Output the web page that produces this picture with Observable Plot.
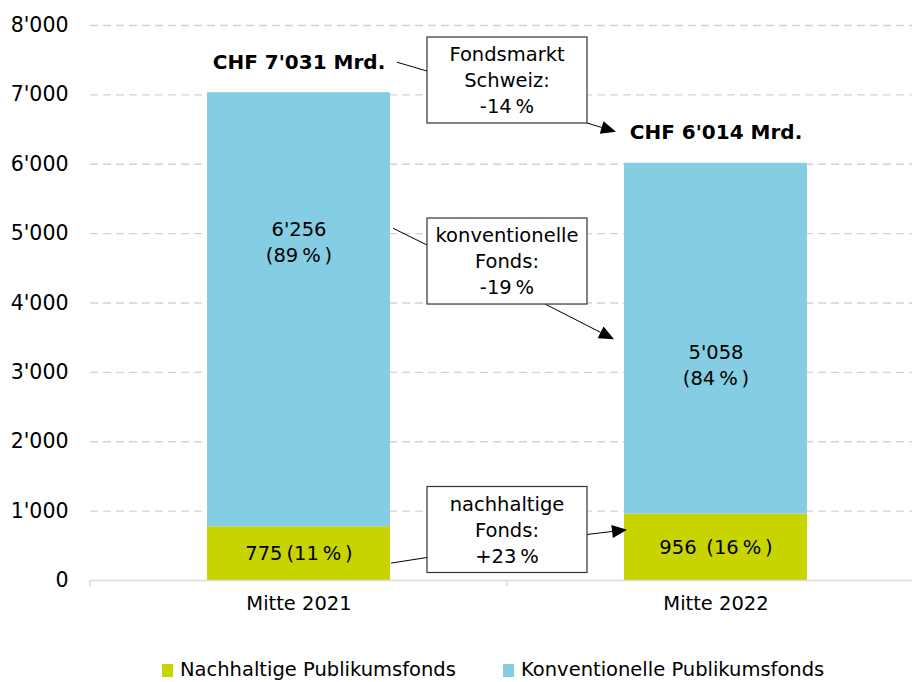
<!DOCTYPE html>
<html><head><meta charset="utf-8">
<script src="https://cdn.jsdelivr.net/npm/d3@7"></script>
<script src="https://cdn.jsdelivr.net/npm/@observablehq/plot@0.6"></script>
<style>
body{margin:0;background:#fff;font-family:"DejaVu Sans",sans-serif;overflow:hidden;width:912px;height:682px;}
#legend{position:relative;height:52px;font-size:19.5px;color:#000;}
.item{position:absolute;top:28px;display:flex;align-items:center;line-height:24px;white-space:nowrap;}
.sw{width:11px;height:13px;margin-right:7px;}
</style></head><body><div id="chart"></div><div id="legend"></div>
<script>
const categories = ["Mitte 2021", "Mitte 2022"];
const seriesNames = ["Nachhaltige Publikumsfonds", "Konventionelle Publikumsfonds"];
const nachhaltig = [775, 956];
const konventionell = [6256, 5058];
const nachhaltigShare = [11, 16];
const konventionellShare = [89, 84];
const totals = [7031, 6014];
const changeTexts = ["Fondsmarkt\nSchweiz:\n-14\u2009%", "konventionelle\nFonds:\n-19\u2009%", "nachhaltige\nFonds:\n+23\u2009%"];
const yTicks = [0, 1000, 2000, 3000, 4000, 5000, 6000, 7000, 8000];
const colors = ["#c8d400", "#85cde2"];

const loc = d3.formatLocale({decimal: ".", thousands: "'", grouping: [3], currency: ["", ""]});
const fmt = loc.format(",d");

const rows = [];
categories.forEach((c, i) => {
  rows.push({cat: c, series: seriesNames[0], value: nachhaltig[i]});
  rows.push({cat: c, series: seriesNames[1], value: konventionell[i]});
});
const greenLabels = categories.map((c, i) => ({cat: c, y: nachhaltig[i] / 2,
  text: i === 0 ? `${fmt(nachhaltig[i])}\u2009(${nachhaltigShare[i]}\u2009%\u2009)` : `${fmt(nachhaltig[i])}\u2002(${nachhaltigShare[i]}\u2009%\u2009)`}));
const blueLabels = categories.map((c, i) => ({cat: c, y: nachhaltig[i] + konventionell[i] / 2,
  text: `${fmt(konventionell[i])}\n(${konventionellShare[i]}\u2009%\u2009)`}));
const totalLabels = categories.map((c, i) => ({cat: c, y: totals[i], text: `CHF ${fmt(totals[i])} Mrd.`}));

const FONT = "DejaVu Sans, sans-serif";

function annotations(index, scales, values, dimensions) {
  const sx = scales.x, sy = scales.y;
  const bw = typeof sx.bandwidth === "function" ? sx.bandwidth() : sx.bandwidth;
  const step = typeof sx.step === "function" ? sx.step() : sx.step;
  const x0 = sx(categories[0]), x1 = sx(categories[1]);
  const gap = step - bw;
  const g = d3.create("svg:g");
  const base = sy(0);
  [x0 - gap / 2, x0 + bw + gap / 2, x1 + bw + gap / 2].forEach(bx => {
    g.append("line").attr("x1", bx).attr("x2", bx).attr("y1", base).attr("y2", base + 6)
      .attr("stroke", "#d9d9d9").attr("stroke-width", 1.5);
  });
  const mid = (x0 + bw + x1) / 2;
  const hw = 80, hh = 43;
  const boxCenters = [sy(7207), sy(4598), sy(728)];
  const lab21 = sy(nachhaltig[0] + konventionell[0] / 2) - 69;
  const lab22 = sy(nachhaltig[1] + konventionell[1] / 2) + 25;
  const segs = [
    {line: [[x0 + bw + 7, sy(totals[0]) - 30], [mid - hw, boxCenters[0] - 9]],
     arrow: [[mid + hw, boxCenters[0] + hh], [x1 - 8, sy(totals[1]) - 31]]},
    {line: [[x0 + bw + 3, lab21 - 12], [mid - hw, boxCenters[1] - 16]],
     arrow: [[mid + 38, boxCenters[1] + hh], [x1 - 10, lab22 - 24]]},
    {line: [[x0 + bw + 1, sy(nachhaltig[0] / 2) + 10], [mid - hw, boxCenters[2] + 28]],
     arrow: [[mid + hw, boxCenters[2] + 5], [x1 + 3, sy(nachhaltig[1]) + 16]]}
  ];
  segs.forEach((s, i) => {
    g.append("line").attr("x1", s.line[0][0]).attr("y1", s.line[0][1]).attr("x2", s.line[1][0]).attr("y2", s.line[1][1])
      .attr("stroke", "#000").attr("stroke-width", 1);
    const [a, b] = s.arrow;
    const ang = Math.atan2(b[1] - a[1], b[0] - a[0]);
    const L = 15, W = 6.5;
    const bx = b[0] - L * Math.cos(ang), by = b[1] - L * Math.sin(ang);
    g.append("line").attr("x1", a[0]).attr("y1", a[1]).attr("x2", bx).attr("y2", by)
      .attr("stroke", "#000").attr("stroke-width", 1);
    const px = -Math.sin(ang) * W, py = Math.cos(ang) * W;
    g.append("polygon").attr("points", `${b[0]},${b[1]} ${bx + px},${by + py} ${bx - px},${by - py}`).attr("fill", "#000");
    const cy = boxCenters[i];
    g.append("rect").attr("x", mid - hw).attr("y", cy - hh).attr("width", 2 * hw).attr("height", 2 * hh)
      .attr("fill", "#fff").attr("stroke", "#333").attr("stroke-width", 1.2);
    const lines = changeTexts[i].split("\n");
    lines.forEach((t, j) => {
      g.append("text").attr("x", mid).attr("y", cy + (j - 1) * 26).attr("dy", "0.36em")
        .attr("text-anchor", "middle").attr("font-family", FONT).attr("font-size", "19.5px").attr("fill", "#000").text(t);
    });
  });
  return g.node();
}

const chart = Plot.plot({
  width: 912,
  height: 630,
  marginTop: 25,
  marginBottom: 50,
  marginLeft: 90,
  marginRight: 0,
  style: {fontFamily: FONT, fontSize: "19.5px", color: "#000", background: "#fff", overflow: "visible"},
  x: {domain: categories, range: [90, 924], paddingInner: 0.562, paddingOuter: 0.28, align: 0.5},
  y: {domain: [0, 8000]},
  color: {domain: seriesNames, range: colors},
  marks: [
    Plot.ruleY(yTicks.filter(t => t > 0), {stroke: "#d3d3d3", strokeWidth: 1.3, strokeDasharray: "8,5"}),
    Plot.barY(rows, {x: "cat", y: "value", fill: "series"}),
    Plot.ruleY([0], {stroke: "#d9d9d9", strokeWidth: 1.5}),
    Plot.axisY({ticks: yTicks, tickFormat: fmt, tickSize: 0, tickPadding: 22, label: null, fontSize: "20.5px"}),
    Plot.axisX({tickSize: 0, tickPadding: 16, label: null, fontSize: "19.5px"}),
    Plot.text(greenLabels, {x: "cat", y: "y", text: "text", fontSize: "19.5px", fill: "#000"}),
    Plot.text(blueLabels.slice(0, 1), {x: "cat", y: "y", text: "text", dy: -69, lineHeight: 1.35, fontSize: "19.5px", fill: "#000"}),
    Plot.text(blueLabels.slice(1), {x: "cat", y: "y", text: "text", dy: 25, lineHeight: 1.35, fontSize: "19.5px", fill: "#000"}),
    Plot.text(totalLabels.slice(0, 1), {x: "cat", y: "y", text: "text", dy: -30, fontSize: "20px", fontWeight: "bold", fill: "#000"}),
    Plot.text(totalLabels.slice(1), {x: "cat", y: "y", text: "text", dy: -31, fontSize: "20px", fontWeight: "bold", fill: "#000"}),
    annotations
  ]
});
document.getElementById("chart").appendChild(chart);

const legend = document.getElementById("legend");
const legendLeft = [162, 503];
seriesNames.forEach((n, i) => {
  const it = document.createElement("div");
  it.className = "item";
  it.style.left = legendLeft[i] + "px";
  it.innerHTML = `<span class="sw" style="background:${colors[i]}"></span><span>${n}</span>`;
  legend.appendChild(it);
});
</script></body></html>
